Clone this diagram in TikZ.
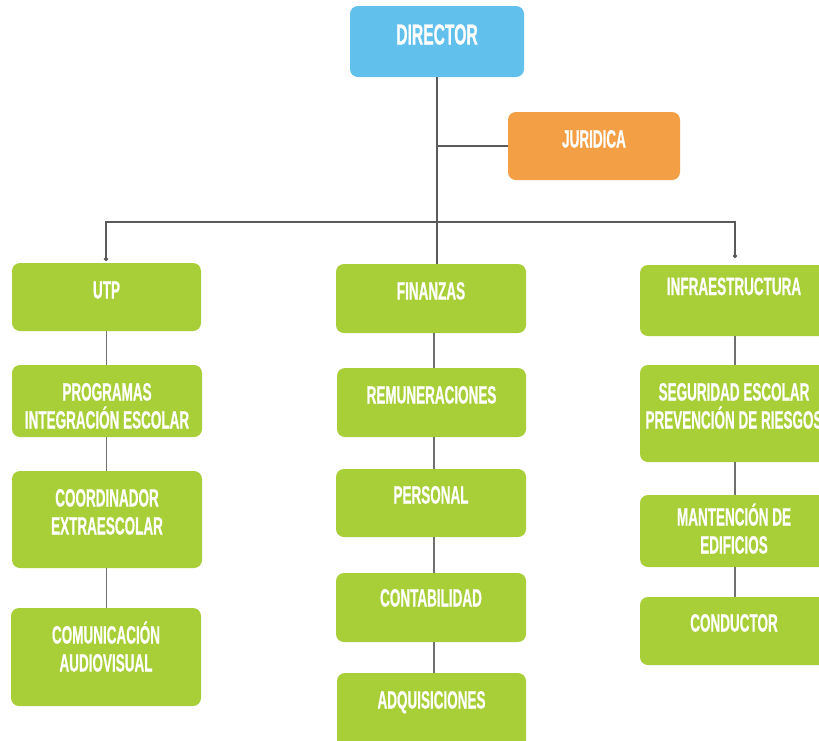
\documentclass[tikz,border=0pt]{standalone}
\usepackage{fontspec}
\newfontfamily\cf[FakeStretch=0.54,FakeBold=0.6]{Liberation Sans Bold}
\usetikzlibrary{arrows.meta}
\definecolor{cblue}{HTML}{62C0EC}
\definecolor{corange}{HTML}{F39F45}
\definecolor{cgreen}{HTML}{A8CF38}
\definecolor{cline}{HTML}{5A5A5A}
\definecolor{cthin}{HTML}{707070}
\newcommand{\twol}[2]{\parbox[t]{230pt}{\centering\cf\fontsize{25}{28}\selectfont #1\\#2}}
\tikzset{
  box/.style={rectangle, rounded corners=8pt, inner sep=0pt, draw=none},
  gbox/.style={box, fill=cgreen},
  lbl/.style={text=white, inner sep=0pt, anchor=base, font=\cf\fontsize{25}{28}\selectfont},
  conn/.style={draw=cline, line width=1.3pt},
  thin/.style={draw=cthin, line width=1.2pt},
}
\begin{document}
\begin{tikzpicture}[x=1pt,y=-1pt]
\useasboundingbox[fill=white] (0,0) rectangle (819,740);
\coordinate (hub) at (437,222);
\coordinate (jun) at (437,146);
\coordinate (hl) at (106,222);
\coordinate (hr) at (735,222);
\coordinate (el) at (106,261);
\coordinate (er) at (735,258);
\coordinate (fin) at (437,264);
% boxes
\node[box, fill=cblue, minimum width=174pt, minimum height=71pt] (director) at (437,41.5) {};
\node[box, fill=corange, minimum width=172pt, minimum height=68pt] (juridica) at (594,146) {};
\node[gbox, minimum width=189pt, minimum height=68pt] (utp) at (106.5,297) {};
\node[gbox, minimum width=190pt, minimum height=69pt] (finanzas) at (431,298.5) {};
\node[gbox, minimum width=190pt, minimum height=71pt] (infra) at (735,300.5) {};
\node[gbox, minimum width=190pt, minimum height=72pt] (prog) at (107,401) {};
\node[gbox, minimum width=190pt, minimum height=97pt] (coord) at (107,519.5) {};
\node[gbox, minimum width=190pt, minimum height=98pt] (comun) at (106,657) {};
\node[gbox, minimum width=189pt, minimum height=69pt] (remun) at (431.5,402.5) {};
\node[gbox, minimum width=190pt, minimum height=68pt] (personal) at (431,503) {};
\node[gbox, minimum width=190pt, minimum height=69pt] (contab) at (431,607.5) {};
\node[gbox, minimum width=189pt, minimum height=77pt] (adq) at (431.5,711.5) {};
\node[gbox, minimum width=190pt, minimum height=97pt] (segur) at (735,413.5) {};
\node[gbox, minimum width=190pt, minimum height=72pt] (mant) at (735,531) {};
\node[gbox, minimum width=190pt, minimum height=68pt] (cond) at (735,631) {};
% connectors
\draw[conn] (director.south) -- (fin);
\draw[conn] (jun) -- (juridica.west);
\draw[conn, -{Circle[length=4pt]}] (hub) -- (hl) -- (el);
\draw[conn, -{Circle[length=4pt]}] (hub) -- (hr) -- (er);
\draw[thin] (utp.south) -- (utp.south |- prog.north);
\draw[thin] (utp.south |- prog.south) -- (utp.south |- coord.north);
\draw[thin] (utp.south |- coord.south) -- (utp.south |- comun.north);
\draw[thin] ([xshift=3pt]finanzas.south) -- ([xshift=3pt]finanzas.south |- remun.north);
\draw[thin] ([xshift=3pt]finanzas.south |- remun.south) -- ([xshift=3pt]finanzas.south |- personal.north);
\draw[thin] ([xshift=3pt]finanzas.south |- personal.south) -- ([xshift=3pt]finanzas.south |- contab.north);
\draw[thin] ([xshift=3pt]finanzas.south |- contab.south) -- ([xshift=3pt]finanzas.south |- adq.north);
\draw[thin] (infra.south) -- (segur.north);
\draw[thin] (segur.south) -- (mant.north);
\draw[thin] (mant.south) -- (cond.north);
% labels
\node[lbl, font=\cf\fontsize{29}{30}\selectfont] (tdirector) at (437,44.5) {DIRECTOR};
\node[lbl] (tjuridica) at (594,147.5) {JURIDICA};
\node[lbl] (tutp) at (106.5,298.5) {UTP};
\node[lbl] (tfinanzas) at (431,299.5) {FINANZAS};
\node[lbl] (tinfra) at (734,295) {INFRAESTRUCTURA};
\node[lbl] (tprog) at (107,400.5) {\twol{PROGRAMAS}{INTEGRACIÓN ESCOLAR}};
\node[lbl] (tcoord) at (107,506.5) {\twol{COORDINADOR}{EXTRAESCOLAR}};
\node[lbl] (tcomun) at (106,643.5) {\twol{COMUNICACIÓN}{AUDIOVISUAL}};
\node[lbl] (tremun) at (431.5,403.5) {REMUNERACIONES};
\node[lbl] (tpersonal) at (431,503.5) {PERSONAL};
\node[lbl] (tcontab) at (431,606.5) {CONTABILIDAD};
\node[lbl] (tadq) at (431.5,708.5) {ADQUISICIONES};
\node[lbl] (tsegur) at (734,400.5) {\twol{SEGURIDAD ESCOLAR}{PREVENCIÓN DE RIESGOS}};
\node[lbl] (tmant) at (734,525.5) {\twol{MANTENCIÓN DE}{EDIFICIOS}};
\node[lbl] (tcond) at (734,631.5) {CONDUCTOR};
\end{tikzpicture}
\end{document}
